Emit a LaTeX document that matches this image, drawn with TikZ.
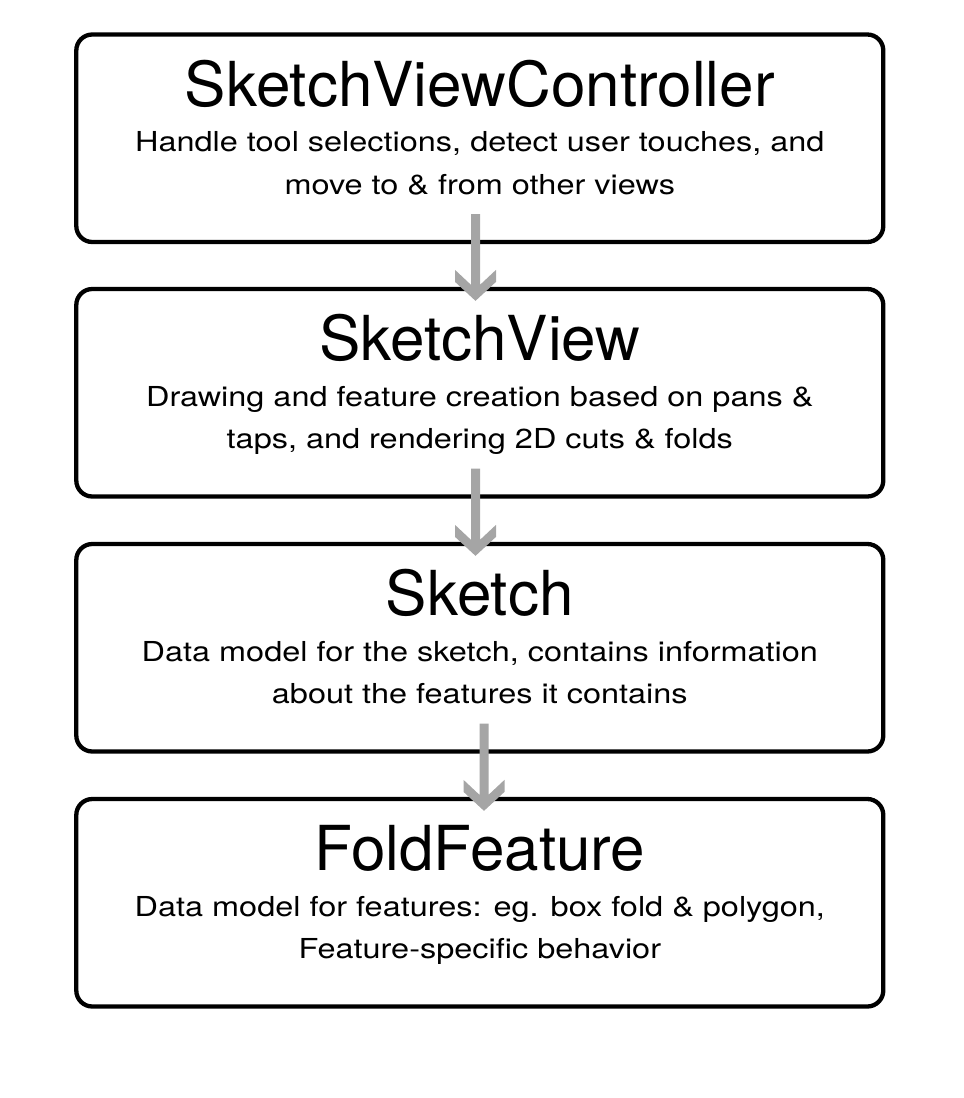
\documentclass[tikz,border=0pt]{standalone}
\usepackage{fontspec}
\setmainfont{TeX Gyre Heros}
\newfontfamily\widefont[FakeStretch=1.18]{TeX Gyre Heros}
\usetikzlibrary{calc}

\definecolor{arrowgray}{RGB}{165,165,165}

\tikzset{
  layerbox/.style={draw=black, line width=4.3pt, rounded corners=16pt,
    minimum width=807pt, minimum height=207.5pt, inner sep=0pt},
  titletext/.style={anchor=base, inner sep=0pt,
    font=\fontsize{62}{70}\selectfont},
  bodytext/.style={anchor=base, inner sep=0pt,
    font=\widefont\fontsize{27.5}{34}\selectfont},
}

% thick gray arrow from the bottom of box #1 into the top of box #2,
% shifted sideways by #3
\newcommand\layerarrow[3]{%
  \coordinate (tail) at ($(#1.south)+(#3,-30)$);
  \coordinate (tip) at ($(#2.north)+(#3,14)$);
  \fill[arrowgray] ($(tail)+(-4.5,0)$)
    -- ($(tip)+(-4.5,-16)$) -- ($(tip)+(-20.5,-31)$) -- ($(tip)+(-20.5,-19)$)
    -- (tip)
    -- ($(tip)+(20.5,-19)$) -- ($(tip)+(20.5,-31)$) -- ($(tip)+(4.5,-16)$)
    -- ($(tail)+(4.5,0)$) -- cycle;
}

\begin{document}
\begin{tikzpicture}[x=1pt, y=-1pt]
  \useasboundingbox (0,0) rectangle (964,1098);

  % the four layers
  \node[layerbox] (b1) at (479.8,138.25) {};
  \node[layerbox] (b2) at (479.8,392.75) {};
  \node[layerbox] (b3) at (479.8,647.75) {};
  \node[layerbox] (b4) at (479.8,902.75) {};

  \node[titletext] (t1) at ($(b1.north)+(0,74)$) {SketchViewController};
  \node[bodytext] (d1a) at ($(b1.north)+(0,119.5)$) {Handle tool selections, detect user touches, and};
  \node[bodytext] (d1b) at ($(b1.north)+(0,162)$) {move to \& from other views};

  \node[titletext] (t2) at ($(b2.north)+(0,74)$) {SketchView};
  \node[bodytext] (d2a) at ($(b2.north)+(0,119.5)$) {Drawing and feature creation based on pans \&};
  \node[bodytext] (d2b) at ($(b2.north)+(0,162)$) {taps, and rendering 2D cuts \& folds};

  \node[titletext] (t3) at ($(b3.north)+(0,74)$) {Sketch};
  \node[bodytext] (d3a) at ($(b3.north)+(0,119.5)$) {Data model for the sketch, contains information};
  \node[bodytext] (d3b) at ($(b3.north)+(0,162)$) {about the features it contains};

  \node[titletext] (t4) at ($(b4.north)+(0,74)$) {FoldFeature};
  \node[bodytext] (d4a) at ($(b4.north)+(0,119.5)$) {Data model for features: eg. box fold \& polygon,};
  \node[bodytext] (d4b) at ($(b4.north)+(0,162)$) {Feature-specific behavior};

  % connectors between the layers
  \layerarrow{b1}{b2}{-4.3}
  \layerarrow{b2}{b3}{-4.3}
  \layerarrow{b3}{b4}{4.2}
\end{tikzpicture}
\end{document}
